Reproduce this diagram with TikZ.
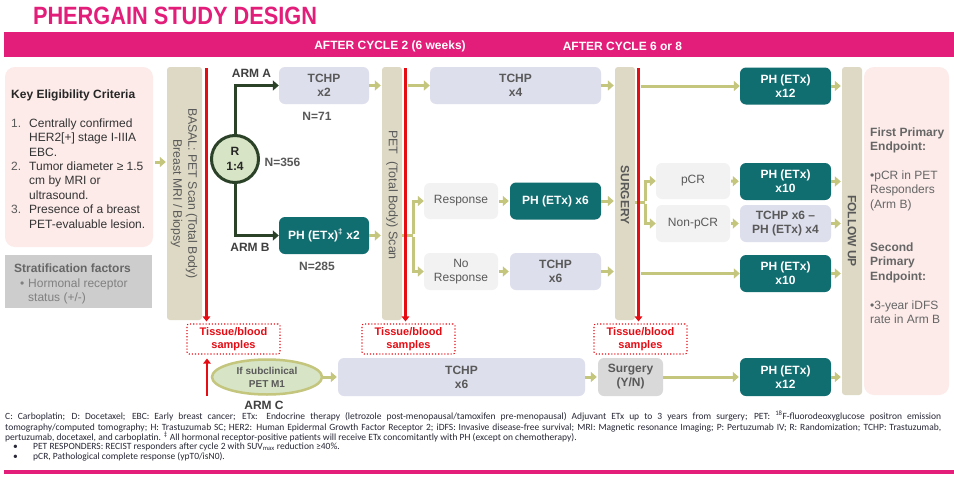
\documentclass[tikz,border=0pt]{standalone}
\usepackage{fontspec}
\setmainfont{Liberation Sans}
\newfontfamily\notefont{Carlito}
\usetikzlibrary{arrows.meta,shapes.geometric}
\newcommand\fsz[2]{\fontsize{#1}{#2}\selectfont}
\definecolor{mag}{RGB}{226,30,122}
\definecolor{pinkbg}{RGB}{252,235,233}
\definecolor{stratgray}{RGB}{205,205,205}
\definecolor{beige}{RGB}{221,217,196}
\definecolor{redl}{RGB}{230,12,20}
\definecolor{lav}{RGB}{221,223,236}
\definecolor{tealc}{RGB}{16,109,112}
\definecolor{lgray}{RGB}{242,242,242}
\definecolor{olive}{RGB}{196,198,126}
\definecolor{dgreen}{RGB}{43,66,40}
\definecolor{cgreen}{RGB}{215,228,197}
\definecolor{sgray}{RGB}{217,217,217}
\definecolor{txtgray}{RGB}{89,89,89}
\definecolor{darktxt}{RGB}{64,64,64}
\definecolor{notecol}{RGB}{40,40,55}
\begin{document}
\begin{tikzpicture}[x=1pt,y=-1pt,
  every node/.style={inner sep=0pt},
  boxbase/.style={rounded corners=6pt, align=center, font=\bfseries\fsz{12}{14}},
  lavbox/.style={boxbase, fill=lav, text=txtgray},
  tealbox/.style={boxbase, fill=tealc, text=white},
  respbox/.style={boxbase, fill=lgray, text=txtgray, font=\fsz{12}{14}},
  barbox/.style={fill=beige, rounded corners=3pt},
  bartext/.style={rotate=-90, text=txtgray, align=center},
  tissue/.style={draw=redl, dotted, line width=1.1pt, rounded corners=2pt, text=redl, align=center,
     font=\bfseries\fsz{11}{13}, minimum width=93pt, minimum height=30pt},
  oarr/.style={draw=olive, line width=3pt, -{Triangle[length=6pt,width=10pt]}},
  oline/.style={draw=olive, line width=3pt},
  rarr/.style={draw=redl, line width=2.6pt, -{Triangle[length=5pt,width=7.5pt]}},
  garr/.style={draw=dgreen, line width=3pt, -{Triangle[length=6pt,width=10pt]}},
  lbl/.style={font=\bfseries\fsz{12}{14}, text=darktxt},
  nlbl/.style={font=\bfseries\fsz{12}{14}, text=txtgray},
  notestyle/.style={font=\notefont\fsz{9.5}{10.5}, text=notecol}
]
\useasboundingbox (0,0) rectangle (954,477);
\fill[white] (0,0) rectangle (954,477);

% title and header
\node[text=mag, font=\bfseries\fsz{25}{28}] (title) at (175,16) {\scalebox{0.87}[1]{PHERGAIN STUDY DESIGN}};
\fill[mag] (4,32) rectangle (954,57);
\node[text=white, font=\bfseries\fsz{12}{14}] (h1) at (390,46.5) {AFTER CYCLE 2 (6 weeks)};
\node[text=white, font=\bfseries\fsz{12}{14}] (h2) at (622.5,46.5) {AFTER CYCLE 6 or 8};

% eligibility
\node[fill=pinkbg, rounded corners=10pt, minimum width=148pt, minimum height=180pt] (elig) at (79,157) {};
\node[anchor=base west, font=\bfseries\fsz{12}{14.4}, text=black!85] (eltitle) at (11,98) {Key Eligibility Criteria};
\node[anchor=north west, font=\fsz{12}{14.4}, text=black!80] (ellist) at (11,117) {\begin{tabular}{@{}p{13pt}@{\hspace{5pt}}l@{}}
\textcolor{txtgray}{1.} & Centrally confirmed\\
 & HER2[+] stage I-IIIA\\
 & EBC.\\
\textcolor{txtgray}{2.} & Tumor diameter ≥ 1.5\\
 & cm by MRI or\\
 & ultrasound.\\
\textcolor{txtgray}{3.} & Presence of a breast\\
 & PET-evaluable lesion.
\end{tabular}};

% stratification
\node[fill=stratgray, minimum width=147pt, minimum height=53pt] (strat) at (78.5,281.5) {};
\node[anchor=base west, font=\bfseries\fsz{12}{14.4}, text=black!60] (sttitle) at (14,272) {Stratification factors};
\node[anchor=base west, font=\fsz{12}{14.4}, text=black!50] (stbul) at (20,287) {•};
\node[anchor=north west, font=\fsz{12}{14.4}, text=black!50, align=left] (sttext) at (28,278.5) {Hormonal receptor\\status (+/-)};

% bars
\node[barbox, minimum width=35pt, minimum height=253pt] (basal) at (184.5,193.5) {};
\node[bartext, font=\fsz{12.3}{15}] (basaltxt) at (184,193.5) {BASAL: PET Scan (Total Body)\\Breast MRI / Biopsy};
\node[barbox, minimum width=20pt, minimum height=253pt] (pet) at (392,193.5) {};
\node[bartext, font=\fsz{12.5}{15}] (pettxt) at (392,195) {PET\ \ (Total Body) Scan};
\node[barbox, minimum width=20pt, minimum height=253pt] (surg) at (625,193.5) {};
\node[bartext, font=\bfseries\fsz{12}{15}] (surgtxt) at (625,195) {SURGERY};
\node[barbox, minimum width=20pt, minimum height=328pt] (fu) at (852,231) {};
\node[bartext, font=\bfseries\fsz{12}{15}] (futxt) at (852,231) {FOLLOW UP};

% endpoints
\node[fill=pinkbg, rounded corners=10pt, minimum width=85pt, minimum height=328pt] (endp) at (906.5,231) {};
\node[anchor=north west, align=left, font=\fsz{12}{14.4}, text=black!60] (endtxt) at (870,127.5) {\textbf{First Primary}\\\textbf{Endpoint:}\\[14.4pt]•pCR in PET\\Responders\\(Arm B)\\[28.8pt]\textbf{Second}\\\textbf{Primary}\\\textbf{Endpoint:}\\[14.4pt]•3-year iDFS\\rate in Arm B};

% randomisation
\node[circle, draw=dgreen, line width=3pt, fill=cgreen, minimum size=47pt, align=center, font=\bfseries\fsz{12}{15}, text=black!85] (rc) at (235,159) {R\\1:4};
\node[lbl] (arma) at (251.5,73) {ARM A};
\node[lbl] (armb) at (250,247) {ARM B};
\node[nlbl] (n356) at (282.5,162) {N=356};

% arm nodes
\node[lavbox, minimum width=90pt, minimum height=37pt] (tchp2) at (324,85.5) {TCHP\\x2};
\node[nlbl] (n71) at (317,116) {N=71};
\node[tealbox, minimum width=90pt, minimum height=37pt] (ph2) at (324,235.5) {PH (ETx)\textsuperscript{‡} x2};
\node[nlbl] (n285) at (317,266) {N=285};

\node[lavbox, minimum width=171pt, minimum height=37pt] (tchp4) at (515.5,85.5) {TCHP\\x4};
\node[respbox, minimum width=74pt, minimum height=36pt] (resp) at (461,201) {Response};
\node[respbox, minimum width=74pt, minimum height=37pt] (noresp) at (461,271.5) {No\\Response};
\node[tealbox, minimum width=91pt, minimum height=37pt] (ph6) at (555.5,201) {PH (ETx) x6};
\node[lavbox, minimum width=91pt, minimum height=37pt] (tchp6) at (555.5,271.5) {TCHP\\x6};

\node[tealbox, minimum width=91pt, minimum height=37pt] (ph12) at (785.5,86) {PH (ETx)\\x12};
\node[respbox, minimum width=74pt, minimum height=36pt] (pcr) at (693,181) {pCR};
\node[respbox, minimum width=74pt, minimum height=37pt] (nonpcr) at (693,223.5) {Non-pCR};
\node[tealbox, minimum width=91pt, minimum height=37pt] (ph10) at (785.5,181.5) {PH (ETx)\\x10};
\node[lavbox, minimum width=91pt, minimum height=37pt] (tchpph) at (785.5,223.5) {TCHP x6 –\\PH (ETx) x4};
\node[tealbox, minimum width=91pt, minimum height=37pt] (ph10b) at (785.5,273.5) {PH (ETx)\\x10};

% arm C
\node[ellipse, draw=olive, line width=2.5pt, fill=cgreen, minimum width=110pt, minimum height=35pt, align=center, font=\bfseries\fsz{10}{13}, text=txtgray] (armc) at (267,377) {If subclinical\\PET M1};
\node[lbl] (armclbl) at (264,405) {ARM C};
\node[lavbox, minimum width=247pt, minimum height=38pt] (tchpc) at (461.5,377) {TCHP\\x6};
\node[boxbase, fill=sgray, text=txtgray, minimum width=65pt, minimum height=38pt] (surgyn) at (630.5,377) {Surgery\\(Y/N)};
\node[tealbox, minimum width=91pt, minimum height=38pt] (ph12c) at (785.5,377) {PH (ETx)\\x12};

% tissue boxes
\node[tissue] (tis1) at (233.5,339) {Tissue/blood\\samples};
\node[tissue] (tis2) at (408.5,339) {Tissue/blood\\samples};
\node[tissue] (tis3) at (640.5,339) {Tissue/blood\\samples};

% coordinates
\coordinate (ey) at (0,162);
\coordinate (r1) at (206.5,68);
\coordinate (r2) at (405.5,68);
\coordinate (r3) at (638.5,68);
\coordinate (rup) at (207,396);
\coordinate (b1) at (413,235.5);
\coordinate (b2) at (645,202);

% olive connectors
\draw[oarr, shorten <=2pt, shorten >=1pt] (elig.east |- ey) -- (basal.west |- ey);
\draw[oarr, shorten >=1pt] (tchp2.east) -- (pet.west |- tchp2);
\draw[oarr, shorten >=1pt] (ph2.east) -- (pet.west |- ph2);
\draw[oarr, shorten <=2pt] (r2 |- tchp4) -- (tchp4.west);
\draw[oline] (pet.east |- b1) -- (b1);
\draw[oarr] ([yshift=1.5pt]b1) |- (resp.west);
\draw[oarr] ([yshift=-1.5pt]b1) |- (noresp.west);
\draw[oarr, shorten <=1pt, shorten >=1pt] (resp) -- (ph6);
\draw[oarr, shorten <=1pt, shorten >=1pt] (noresp) -- (tchp6);
\draw[oarr, shorten >=1pt] (tchp4.east) -- (surg.west |- tchp4);
\draw[oarr, shorten >=1pt] (ph6.east) -- (surg.west |- ph6);
\draw[oarr, shorten >=1pt] (tchp6.east) -- (surg.west |- tchp6);
\draw[oarr, shorten <=2pt] (r3 |- ph12) -- (ph12.west);
\draw[oline] (surg.east |- b2) -- (b2);
\draw[oarr] ([yshift=1.5pt]b2) |- (pcr.west);
\draw[oarr] ([yshift=-1.5pt]b2) |- (nonpcr.west);
\draw[oarr, shorten <=2pt] (r3 |- ph10b) -- (ph10b.west);
\draw[oarr, shorten <=1pt, shorten >=1pt] (pcr) -- (ph10);
\draw[oarr, shorten <=1pt, shorten >=1pt] (nonpcr) -- (tchpph);
\draw[oarr, shorten >=1pt] (ph12.east) -- (fu.west |- ph12);
\draw[oarr, shorten >=1pt] (ph10.east) -- (fu.west |- ph10);
\draw[oarr, shorten >=1pt] (tchpph.east) -- (fu.west |- tchpph);
\draw[oarr, shorten >=1pt] (ph10b.east) -- (fu.west |- ph10b);
\draw[oarr, shorten >=1pt] (ph12c.east) -- (fu.west |- ph12c);
\draw[oarr, shorten >=1pt] (armc.east) -- (tchpc.west);
\draw[oarr, shorten >=1pt] (tchpc.east) -- (surgyn.west);
\draw[oarr, shorten >=1pt] (surgyn.east) -- (ph12c.west);

% green connectors
\draw[garr] (rc.north) |- (tchp2.west);
\draw[garr] (rc.south) |- (ph2.west);

% red lines
\draw[rarr, shorten >=2pt] (r1) -- (r1 |- tis1.north);
\draw[rarr, shorten >=2pt] (r2) -- (r2 |- tis2.north);
\draw[rarr, shorten >=2pt] (r3) -- (r3 |- tis3.north);
\draw[rarr, shorten >=4pt] (rup) -- (rup |- tis1.south);

% footnotes
\node[anchor=north west, text width=936pt, align=justify, notestyle] (note) at (5,411) {C: Carboplatin; D: Docetaxel; EBC: Early breast cancer; ETx: Endocrine therapy (letrozole post-menopausal/tamoxifen pre-menopausal) Adjuvant ETx up to 3 years from surgery; PET: \textsuperscript{18}F-fluorodeoxyglucose positron emission\linebreak tomography/computed tomography; H: Trastuzumab SC; HER2: Human Epidermal Growth Factor Receptor 2; iDFS: Invasive disease-free survival; MRI: Magnetic resonance Imaging; P: Pertuzumab IV; R: Randomization; TCHP: Trastuzumab,\linebreak pertuzumab, docetaxel, and carboplatin. \textsuperscript{‡} All hormonal receptor-positive patients will receive ETx concomitantly with PH (except on chemotherapy).};
\node[anchor=base west, notestyle] (bu1) at (13,449) {•};
\node[anchor=base west, notestyle] (bt1) at (33,449) {PET RESPONDERS: RECIST responders after cycle 2 with SUV\textsubscript{max} reduction ≥40\%.};
\node[anchor=base west, notestyle] (bu2) at (13,459.5) {•};
\node[anchor=base west, notestyle] (bt2) at (33,459.5) {pCR, Pathological complete response (ypT0/isN0).};
\fill[mag] (4,469.5) rectangle (954,474);
\end{tikzpicture}
\end{document}
